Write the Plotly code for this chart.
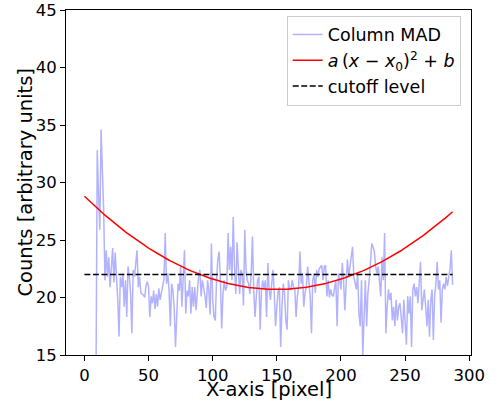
import plotly.graph_objects as go

# Column MAD values, one per pixel column 0..287 (first columns are below the visible range)
mad = [
    0.0, 0.0, 0.0, 0.0, 0.0, 0.0, 0.0, 0.0, 0.0, 12.0,
    32.8, 29.0, 25.9, 34.6, 31.0, 27.6, 21.5, 24.1, 21.8, 23.5,
    20.9, 22.7, 24.3, 21.3, 23.9, 21.8, 19.8, 16.6, 21.8, 20.9,
    22.1, 19.2, 21.5, 18.3, 22.7, 21.8, 20.4, 16.9, 22.4, 21.8,
    22.7, 24.1, 20.9, 21.8, 20.4, 20.3, 20.2, 20.0, 21.0, 21.4,
    20.9, 18.3, 20.1, 19.5, 20.6, 19.0, 20.3, 19.2, 20.8, 19.8,
    20.3, 20.9, 21.6, 25.6, 21.2, 22.1, 20.6, 17.5, 21.2, 20.6,
    19.0, 15.7, 19.2, 21.2, 20.6, 22.7, 19.2, 21.5, 24.1, 18.6,
    20.6, 20.1, 21.5, 18.6, 20.9, 19.2, 20.9, 18.9, 20.9, 21.8,
    22.4, 20.1, 21.5, 20.9, 20.1, 19.1, 21.5, 20.6, 18.5, 24.7,
    19.8, 18.3, 18.0, 21.5, 23.3, 24.0, 21.5, 17.3, 20.3, 21.5,
    20.6, 20.9, 25.6, 22.4, 24.4, 21.5, 27.0, 22.7, 20.3, 24.8,
    22.7, 20.3, 22.4, 22.1, 19.3, 25.9, 22.4, 21.5, 21.2, 20.3,
    22.1, 25.3, 20.6, 18.3, 20.1, 21.5, 21.8, 17.2, 20.6, 21.5,
    20.7, 21.5, 18.3, 23.0, 20.7, 19.8, 21.2, 22.4, 20.4, 17.5,
    19.2, 20.5, 20.9, 15.7, 19.2, 21.2, 20.4, 18.0, 17.2, 21.5,
    20.7, 20.7, 21.5, 20.9, 20.7, 18.3, 20.1, 20.9, 24.0, 21.2,
    22.1, 19.2, 20.4, 20.9, 22.7, 21.5, 20.1, 16.9, 21.5, 22.1,
    20.4, 22.4, 21.8, 22.5, 22.7, 22.8, 21.5, 22.7, 22.8, 20.1,
    21.5, 20.0, 20.7, 20.2, 20.1, 20.9, 21.5, 17.5, 22.1, 21.5,
    20.7, 23.0, 21.5, 18.9, 20.9, 23.3, 21.8, 22.7, 23.3, 24.4,
    21.8, 21.2, 20.7, 22.1, 18.6, 17.5, 21.5, 15.0, 19.2, 21.5,
    17.5, 20.4, 21.5, 23.5, 24.7, 24.4, 24.0, 22.7, 22.1, 22.7,
    21.5, 20.1, 23.5, 21.5, 25.6, 16.9, 19.2, 20.7, 19.8, 20.4,
    18.0, 19.2, 17.5, 19.8, 18.0, 19.2, 19.5, 17.8, 16.9, 19.8,
    18.0, 15.9, 20.1, 18.6, 20.1, 15.7, 20.7, 21.2, 20.1, 20.9,
    19.5, 21.5, 23.1, 18.9, 19.8, 20.7, 19.2, 17.5, 19.8, 16.6,
    19.8, 20.7, 16.3, 20.1, 21.2, 23.1, 20.7, 21.5, 17.8, 20.7,
    21.2, 20.7, 21.8, 21.0, 21.8, 22.5, 24.1, 21.1,
]
columns = list(range(len(mad)))

# Parabola fit parameters a (x - x0)^2 + b
fit_a = 0.00036
fit_x0 = 150.0
fit_b = 20.7
fit_curve = [fit_a * (c - fit_x0) ** 2 + fit_b for c in columns]

cutoff = 22.0
cutoff_line = [cutoff for _ in columns]

x_ticks = [0, 50, 100, 150, 200, 250, 300]
y_ticks = [15, 20, 25, 30, 35, 40, 45]

x_title = "X-axis [pixel]"
y_title = "Counts [arbitrary units]"

FONT = "DejaVu Sans"

fig = go.Figure()
fig.add_trace(go.Scatter(
    x=columns, y=mad, mode="lines", name="Column MAD",
    line=dict(color="rgba(0,0,255,0.3)", width=1.5),
))
fig.add_trace(go.Scatter(
    x=columns, y=fit_curve, mode="lines",
    name="<i>a</i>\u2009(<i>x</i> \u2212 <i>x</i><sub>0</sub>)<sup>2</sup> + <i>b</i>",
    line=dict(color="red", width=1.5),
))
fig.add_trace(go.Scatter(
    x=columns, y=cutoff_line, mode="lines", name="cutoff level",
    line=dict(color="black", width=1.5, dash="6px,2.5px"),
))

axis_common = dict(
    showgrid=False, zeroline=False, showline=True, linecolor="black",
    linewidth=1, mirror=True, ticks="outside", ticklen=5, tickwidth=1,
    tickcolor="black", tickfont=dict(family=FONT, size=16.5, color="black"),
)

fig.update_layout(
    width=501, height=406,
    margin=dict(l=66, r=30, t=10, b=51, autoexpand=False),
    paper_bgcolor="white", plot_bgcolor="white",
    font=dict(family=FONT, color="black"),
    showlegend=True,
    legend=dict(
        x=0.545, y=0.984, xanchor="left", yanchor="top",
        bgcolor="rgba(255,255,255,0.8)", bordercolor="#cccccc", borderwidth=1,
        font=dict(family=FONT, size=17.5, color="black"),
        tracegroupgap=0, itemwidth=30,
    ),
    xaxis=dict(range=[-14.35, 301.35], tickvals=x_ticks, **axis_common),
    yaxis=dict(range=[15, 45], tickvals=y_ticks, **axis_common),
    annotations=[
        dict(text=x_title, xref="paper", yref="paper", x=0.5, y=-0.099,
             xanchor="center", yanchor="middle", showarrow=False,
             font=dict(family=FONT, size=19.5, color="black")),
        dict(text=y_title, xref="paper", yref="paper", x=-0.101, y=0.5,
             xanchor="center", yanchor="middle", showarrow=False, textangle=-90,
             font=dict(family=FONT, size=19.5, color="black")),
    ],
)

fig.write_html("out.html")
